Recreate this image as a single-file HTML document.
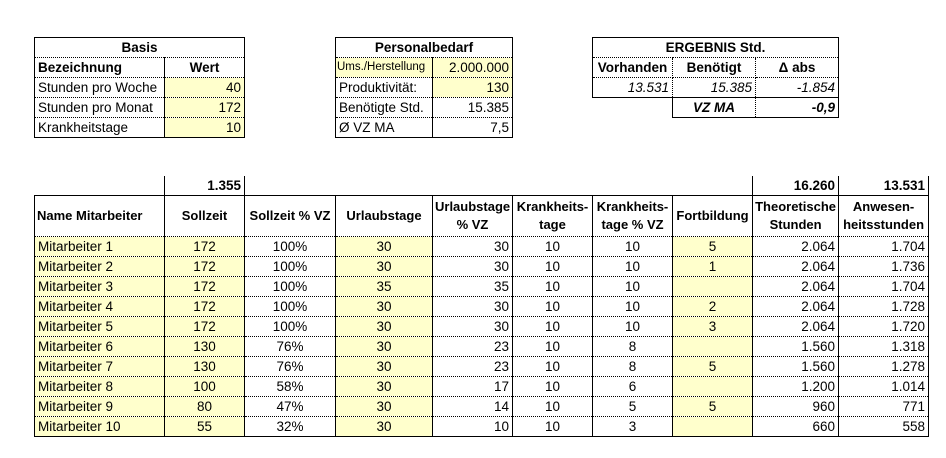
<!DOCTYPE html>
<html><head><meta charset="utf-8"><style>
body{margin:0;width:946px;height:458px;background:#fff;position:relative;font-family:"Liberation Sans",sans-serif;font-size:13.5px;color:#000;overflow:hidden}
table{position:absolute;border-collapse:collapse;table-layout:fixed}
td{padding:0 3px;white-space:nowrap;overflow:hidden;border-left:1px solid #000;border-right:1px solid #000;border-bottom:1px dotted #000;height:19px;line-height:19px}
.o{border:1px solid #000}
.y{background:#ffffcc}
.b{font-weight:bold}
.c{text-align:center}.r{text-align:right}
.i{font-style:italic}
.bt td{border-top:1px solid #000}
.last td{border-bottom:1px solid #000}
.hd td{height:40px;line-height:18px;font-weight:bold;text-align:center;white-space:normal;font-size:13px;padding:0 2px}
</style></head><body>

<table class="o" style="left:34px;top:37px;width:210px">
<col style="width:130px"><col style="width:80px">
<tr class="bt"><td colspan="2" class="b c">Basis</td></tr>
<tr><td class="b">Bezeichnung</td><td class="b c">Wert</td></tr>
<tr><td>Stunden pro Woche</td><td class="y r">40</td></tr>
<tr><td>Stunden pro Monat</td><td class="y r">172</td></tr>
<tr class="last"><td>Krankheitstage</td><td class="y r">10</td></tr>
</table>

<table class="o" style="left:335px;top:37px;width:177px">
<col style="width:97px"><col style="width:80px">
<tr class="bt"><td colspan="2" class="b c">Personalbedarf</td></tr>
<tr><td class="y" style="font-size:11.5px;padding:0 1px">Ums./Herstellung</td><td class="y r">2.000.000</td></tr>
<tr><td>Produktivität:</td><td class="y r">130</td></tr>
<tr><td>Benötigte Std.</td><td class="r">15.385</td></tr>
<tr class="last"><td>Ø VZ MA</td><td class="r">7,5</td></tr>
</table>

<table style="left:592px;top:37px;width:246px">
<col style="width:80px"><col style="width:83px"><col style="width:83px">
<tr class="bt"><td colspan="3" class="b c">ERGEBNIS Std.</td></tr>
<tr><td class="b c" style="border-right:1px dotted #000">Vorhanden</td><td class="b c" style="border-left:1px dotted #000;border-right:1px dotted #000">Benötigt</td><td class="b c" style="border-left:1px dotted #000">Δ abs</td></tr>
<tr class="last"><td class="i r" style="border-right:1px dotted #000">13.531</td><td class="i r" style="border-left:1px dotted #000;border-right:1px dotted #000">15.385</td><td class="i r" style="border-left:1px dotted #000">-1.854</td></tr>
<tr class="last"><td style="border:none"></td><td class="b i c" style="border-right:1px dotted #000">VZ MA</td><td class="b i r" style="border-left:1px dotted #000">-0,9</td></tr>
</table>

<table style="left:34px;top:176px;width:894px">
<col style="width:130px"><col style="width:80px"><col style="width:91px"><col style="width:97px"><col style="width:80px"><col style="width:80px"><col style="width:80px"><col style="width:80px"><col style="width:86px"><col style="width:90px">
<tr><td style="border:none"></td><td class="b r" style="border-bottom:none">1.355</td><td colspan="6" style="border:none"></td><td class="b r" style="border-bottom:none">16.260</td><td class="b r" style="border-bottom:none">13.531</td></tr>
<tr class="hd bt"><td style="text-align:left">Name Mitarbeiter</td><td>Sollzeit</td><td>Sollzeit % VZ</td><td>Urlaubstage</td><td>Urlaubstage % VZ</td><td>Krankheits-tage</td><td>Krankheits-tage % VZ</td><td>Fortbildung</td><td>Theoretische Stunden</td><td>Anwesen-heitsstunden</td></tr>
<tr><td class="y">Mitarbeiter 1</td><td class="y c">172</td><td class="c">100%</td><td class="y c">30</td><td class="r">30</td><td class="c">10</td><td class="c">10</td><td class="y c">5</td><td class="r">2.064</td><td class="r">1.704</td></tr>
<tr><td class="y">Mitarbeiter 2</td><td class="y c">172</td><td class="c">100%</td><td class="y c">30</td><td class="r">30</td><td class="c">10</td><td class="c">10</td><td class="y c">1</td><td class="r">2.064</td><td class="r">1.736</td></tr>
<tr><td class="y">Mitarbeiter 3</td><td class="y c">172</td><td class="c">100%</td><td class="y c">35</td><td class="r">35</td><td class="c">10</td><td class="c">10</td><td class="y c"></td><td class="r">2.064</td><td class="r">1.704</td></tr>
<tr><td class="y">Mitarbeiter 4</td><td class="y c">172</td><td class="c">100%</td><td class="y c">30</td><td class="r">30</td><td class="c">10</td><td class="c">10</td><td class="y c">2</td><td class="r">2.064</td><td class="r">1.728</td></tr>
<tr><td class="y">Mitarbeiter 5</td><td class="y c">172</td><td class="c">100%</td><td class="y c">30</td><td class="r">30</td><td class="c">10</td><td class="c">10</td><td class="y c">3</td><td class="r">2.064</td><td class="r">1.720</td></tr>
<tr><td class="y">Mitarbeiter 6</td><td class="y c">130</td><td class="c">76%</td><td class="y c">30</td><td class="r">23</td><td class="c">10</td><td class="c">8</td><td class="y c"></td><td class="r">1.560</td><td class="r">1.318</td></tr>
<tr><td class="y">Mitarbeiter 7</td><td class="y c">130</td><td class="c">76%</td><td class="y c">30</td><td class="r">23</td><td class="c">10</td><td class="c">8</td><td class="y c">5</td><td class="r">1.560</td><td class="r">1.278</td></tr>
<tr><td class="y">Mitarbeiter 8</td><td class="y c">100</td><td class="c">58%</td><td class="y c">30</td><td class="r">17</td><td class="c">10</td><td class="c">6</td><td class="y c"></td><td class="r">1.200</td><td class="r">1.014</td></tr>
<tr><td class="y">Mitarbeiter 9</td><td class="y c">80</td><td class="c">47%</td><td class="y c">30</td><td class="r">14</td><td class="c">10</td><td class="c">5</td><td class="y c">5</td><td class="r">960</td><td class="r">771</td></tr>
<tr class="last"><td class="y">Mitarbeiter 10</td><td class="y c">55</td><td class="c">32%</td><td class="y c">30</td><td class="r">10</td><td class="c">10</td><td class="c">3</td><td class="y c"></td><td class="r">660</td><td class="r">558</td></tr>
</table>
</body></html>
